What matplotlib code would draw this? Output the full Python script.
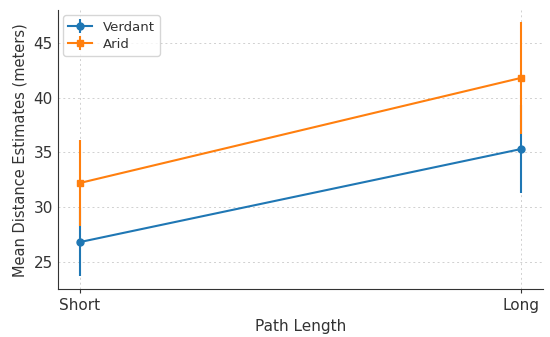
import matplotlib.pyplot as plt

# Data
path_lengths = ["Short", "Long"]
verdant_means = [26.8, 35.3]
verdant_err = [3.1, 4.05]
arid_means = [32.2, 41.8]
arid_err = [3.9, 5.1]

plt.rcParams["text.color"] = "#333333"
plt.rcParams["axes.labelcolor"] = "#333333"
plt.rcParams["xtick.color"] = "#333333"
plt.rcParams["ytick.color"] = "#333333"

fig, ax = plt.subplots(figsize=(5.5, 3.37), dpi=100)

x = range(len(path_lengths))
ax.errorbar(x, verdant_means, yerr=verdant_err, marker="o", markersize=5,
            color="#1f77b4", label="Verdant", linewidth=1.5)
ax.errorbar(x, arid_means, yerr=arid_err, marker="s", markersize=5,
            color="#ff7f0e", label="Arid", linewidth=1.5)

ax.set_xticks(list(x))
ax.set_xticklabels(path_lengths)
ax.set_ylim(22.5, 48)
ax.set_xlabel("Path Length", fontsize=11)
ax.set_ylabel("Mean Distance Estimates (meters)", fontsize=10.5)

ax.grid(True, linestyle=(0, (2, 3)), color="#d0d0d0", linewidth=0.7)
ax.spines["top"].set_visible(False)
ax.spines["right"].set_visible(False)
ax.spines["left"].set_color("#333333")
ax.spines["bottom"].set_color("#333333")
ax.tick_params(axis="y", length=0, labelsize=11)
ax.tick_params(axis="x", length=3, labelsize=11)
ax.legend(loc="upper left", fontsize=9.5, handlelength=1.8,
          borderaxespad=0.4, labelspacing=0.3)

plt.subplots_adjust(left=0.105, right=0.987, top=0.970, bottom=0.142)
plt.savefig("out.png")
